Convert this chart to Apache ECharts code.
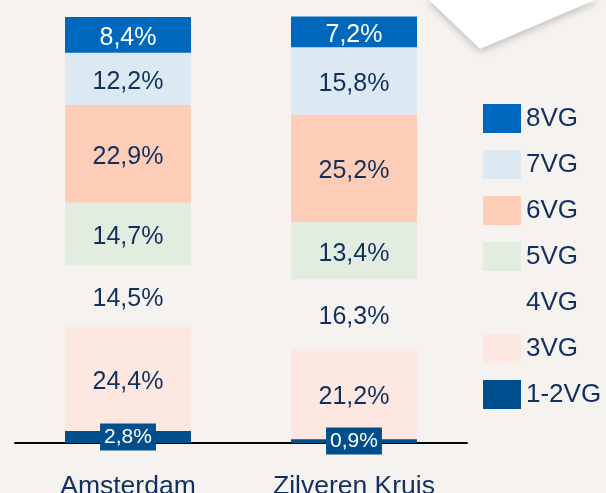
<!DOCTYPE html>
<html>
<head>
<meta charset="utf-8">
<script src="https://cdn.jsdelivr.net/npm/echarts@6/dist/echarts.min.js"></script>
<style>
  html, body { margin: 0; padding: 0; background: #f5f2ef; }
  #main { width: 606px; height: 493px; }
</style>
</head>
<body>
<div id="main"></div>
<script>
const categories = ['Amsterdam', 'Zilveren Kruis'];
// stacked bottom -> top
const seriesNames = ['1-2VG', '3VG', '4VG', '5VG', '6VG', '7VG', '8VG'];
const vg12 = [2.8, 0.9];
const vg3 = [24.4, 21.2];
const vg4 = [14.5, 16.3];
const vg5 = [14.7, 13.4];
const vg6 = [22.9, 25.2];
const vg7 = [12.2, 15.8];
const vg8 = [8.4, 7.2];
const legendOrder = ['8VG', '7VG', '6VG', '5VG', '4VG', '3VG', '1-2VG'];

const bg = '#f5f2ef'
const navy = '#12305e'
const colors = {
  '1-2VG': '#004e8c',
  '3VG': '#fce8e0',
  '4VG': bg,
  '5VG': '#e2ede0',
  '6VG': '#fdcdb8',
  '7VG': '#dce9f3',
  '8VG': '#0068bc'
}
const values = [vg12, vg3, vg4, vg5, vg6, vg7, vg8];

const fmt = (v) => v.toFixed(1).replace('.', ',') + '%'

let myChart = echarts.init(document.getElementById('main'), null, { renderer: 'canvas' });
myChart.setOption({
  backgroundColor: bg,
  animation: false,
  textStyle: { fontFamily: 'Liberation Sans, Arial, sans-serif' },
  graphic: [
    {
      type: 'polygon',
      shape: { points: [[427, -2], [480, 49], [600, -2]] },
      style: { fill: '#ffffff', shadowBlur: 8, shadowColor: 'rgba(0,0,0,0.25)', shadowOffsetX: 0, shadowOffsetY: 2 },
      z: 0
    }
  ],
  legend: {
    orient: 'vertical',
    left: 478,
    top: 99,
    itemWidth: 38,
    itemHeight: 29,
    itemGap: 17,
    icon: 'rect',
    data: legendOrder,
    textStyle: { fontSize: 26, color: navy, padding: [6, 0, 0, 0] },
    selectedMode: false
  },
  grid: { left: 15, right: 139, top: 16.5, bottom: 50, containLabel: false, outerBoundsMode: 'none' },
  xAxis: {
    type: 'category',
    data: categories,
    axisLine: { lineStyle: { color: '#000', width: 2 } },
    axisTick: { show: false },
    axisLabel: { fontSize: 26.5, color: navy, margin: 30 },
    z: 3
  },
  yAxis: { type: 'value', min: 0, max: 100, show: false, splitLine: { show: false } },
  series: seriesNames.map((name, i) => ({
    name: name,
    type: 'bar',
    stack: 'total',
    barWidth: 126,
    data: values[i],
    itemStyle: { color: colors[name] },
    z: name === '1-2VG' ? 4 : 2,
    label: name === '1-2VG'
      ? {
        show: true, position: 'inside', formatter: (p) => fmt(p.value),
        fontSize: 21, color: '#fff', backgroundColor: colors[name], padding: [4, 4, 2, 4]
      }
      : {
        show: true, position: 'inside', offset: [0, 3], formatter: (p) => fmt(p.value),
        fontSize: 25, color: name === '8VG' ? '#fff' : navy
      }
  }))
});
</script>
</body>
</html>
